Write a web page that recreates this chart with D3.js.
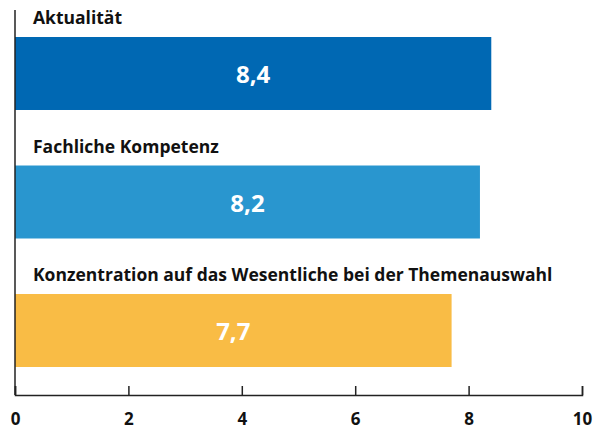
<!DOCTYPE html>
<html>
<head>
<meta charset="utf-8">
<script src="https://cdn.jsdelivr.net/npm/d3@7"></script>
<style>
  body { margin: 0; background: #fff; }
  text { font-family: "Open Sans", Lato, sans-serif; font-weight: bold; }
</style>
</head>
<body>
<svg id="chart" width="595" height="430"></svg>
<script>
const categories = ['Aktualität', 'Fachliche Kompetenz', 'Konzentration auf das Wesentliche bei der Themenauswahl'];
const values = [8.4, 8.2, 7.7];
const colors = ['#0068b3', '#2996cf', '#f9bc45'];
const xTicks = [0, 2, 4, 6, 8, 10];

const svg = d3.select('#chart');

const x = d3.scaleLinear().domain([0, 10]).range([15, 582]);
const y = d3.scaleBand()
    .domain(categories)
    .range([37, 367])
    .paddingInner(0.432)
    .paddingOuter(0);

const data = categories.map((c, i) => ({ cat: c, val: values[i], color: colors[i] }));

// Bars
svg.selectAll('.bar')
    .data(data)
    .join('rect')
    .attr('class', 'bar')
    .attr('x', x(0))
    .attr('y', d => y(d.cat))
    .attr('width', d => x(d.val) - x(0))
    .attr('height', y.bandwidth())
    .attr('fill', d => d.color);

// Category labels above bars
svg.selectAll('.cat-label')
    .data(data)
    .join('text')
    .attr('class', 'cat-label')
    .attr('x', 33)
    .attr('y', d => y(d.cat) - 13)
    .attr('font-size', '17.5px')
    .attr('fill', '#111')
    .text(d => d.cat);

// Value labels
svg.selectAll('.val-label')
    .data(data)
    .join('text')
    .attr('class', 'val-label')
    .attr('x', d => (x(0) + x(d.val)) / 2)
    .attr('y', d => y(d.cat) + y.bandwidth() / 2)
    .attr('dy', '0.4em')
    .attr('text-anchor', 'middle')
    .attr('font-size', '24px')
    .attr('fill', '#fff')
    .text(d => d3.format('.1f')(d.val).replace('.', ','));

// Vertical axis line
svg.append('line')
    .attr('x1', x(0)).attr('x2', x(0))
    .attr('y1', 10).attr('y2', 395)
    .attr('stroke', '#222')
    .attr('stroke-width', 1.5);

// Bottom axis
const xAxis = svg.append('g')
    .attr('transform', 'translate(0,395)')
    .call(d3.axisBottom(x)
        .tickValues(xTicks)
        .tickFormat(d3.format('d'))
        .tickSizeInner(-9)
        .tickSizeOuter(-9)
        .tickPadding(18));

xAxis.selectAll('line, path').attr('stroke', '#222').attr('stroke-width', 1.5);
xAxis.selectAll('text')
    .attr('fill', '#111')
    .attr('font-size', '17px')
    .style('font-family', '"Open Sans", Lato, sans-serif')
    .style('font-weight', 'bold');
</script>
</body>
</html>
